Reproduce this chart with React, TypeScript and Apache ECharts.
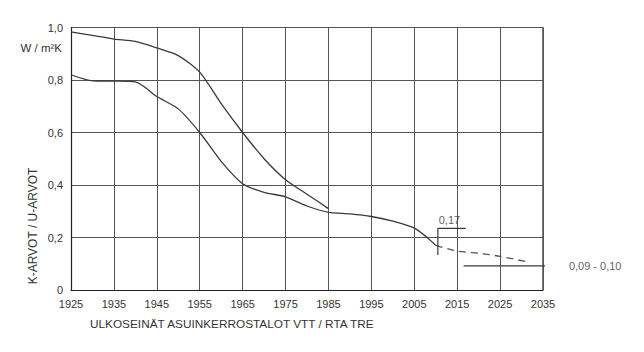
import React, { useEffect, useRef } from "react";
import * as echarts from "echarts";

const upperYears = [1925, 1930, 1935, 1940, 1945, 1950, 1955, 1960, 1965, 1970, 1975, 1980, 1985];
const upperValues = [0.983, 0.97, 0.956, 0.947, 0.922, 0.893, 0.83, 0.71, 0.6, 0.5, 0.42, 0.365, 0.31];

const lowerYears = [1925, 1930, 1935, 1940, 1942, 1945, 1950, 1955, 1960, 1965, 1970, 1975, 1980, 1985, 1990, 1995, 2000, 2005, 2008, 2010];
const lowerValues = [0.82, 0.797, 0.796, 0.793, 0.775, 0.737, 0.69, 0.6, 0.49, 0.405, 0.372, 0.355, 0.32, 0.296, 0.29, 0.28, 0.262, 0.236, 0.2, 0.17];

const futureYears = [2010, 2015, 2020, 2025, 2032];
const futureValues = [0.17, 0.148, 0.14, 0.128, 0.105];

const bracketV = [[2010.5, 0.235], [2010.5, 0.133]];
const bracketH = [[2010.5, 0.235], [2017, 0.235]];
const targetLine = [[2016.5, 0.092], [2039.4, 0.092]];

const label017 = { pos: [2013.2, 0.235], text: "0,17" };
const labelTarget = { pos: [2039.4, 0.092], text: "0,09 - 0,10" };

const yTicks = ["0", "0,2", "0,4", "0,6", "0,8", "1,0"];
const yAxisTitle = "K-ARVOT / U-ARVOT";
const unitText = "W / m²K";
const xAxisTitle = "ULKOSEINÄT ASUINKERROSTALOT VTT / RTA TRE";

const FONT = "Liberation Sans, Arial, sans-serif";
const TXT = "#333";
const LINE = "#3a3a3a";

export default function App() {
  const ref = useRef<HTMLDivElement>(null);
  useEffect(() => {
    if (!ref.current) return;
    const chart = echarts.init(ref.current, undefined, { renderer: "svg" });
    const zip = (xs: number[], ys: number[]) => xs.map((x, i) => [x, ys[i]]);
    const annotLine = (data: number[][], clip = true) => ({
      type: "line",
      data,
      symbol: "none",
      clip,
      lineStyle: { color: LINE, width: 1.2 },
      silent: true,
    });
    chart.setOption({
      animation: false,
      backgroundColor: "#fff",
      grid: { left: 71, top: 27.5, width: 472, height: 262.5, show: false },
      xAxis: {
        type: "value",
        min: 1925,
        max: 2035,
        interval: 10,
        axisLine: { show: true, lineStyle: { color: "#222", width: 1.2 } },
        axisTick: { show: false },
        splitLine: { show: true, lineStyle: { color: "#555", width: 1 } },
        axisLabel: {
          color: TXT,
          fontSize: 11,
          fontFamily: FONT,
          margin: 8,
          formatter: (v: number) => String(v),
        },
      },
      yAxis: {
        type: "value",
        min: 0,
        max: 1,
        interval: 0.2,
        axisLine: { show: true, lineStyle: { color: "#222", width: 1.2 } },
        axisTick: { show: false },
        splitLine: { show: true, lineStyle: { color: "#555", width: 1 } },
        axisLabel: {
          color: TXT,
          fontSize: 11,
          fontFamily: FONT,
          margin: 8,
          formatter: (v: number) => yTicks[Math.round(v / 0.2)],
        },
      },
      graphic: [
        {
          type: "line",
          shape: { x1: 71, y1: 27.5, x2: 543, y2: 27.5 },
          style: { stroke: "#222", lineWidth: 1.2 },
        },
        {
          type: "line",
          shape: { x1: 543, y1: 27.5, x2: 543, y2: 290 },
          style: { stroke: "#222", lineWidth: 1.2 },
        },
        {
          type: "text",
          x: 62,
          y: 48,
          style: { text: unitText, fill: TXT, font: `11.5px ${FONT}`, align: "right", verticalAlign: "middle" },
        },
        {
          type: "text",
          x: 33,
          y: 226,
          rotation: Math.PI / 2,
          style: { text: yAxisTitle, fill: TXT, font: `12px ${FONT}`, align: "center", verticalAlign: "middle" },
        },
        {
          type: "text",
          x: 90,
          y: 324,
          style: { text: xAxisTitle, fill: TXT, font: `11.8px ${FONT}`, align: "left", verticalAlign: "middle" },
        },
      ],
      series: [
        {
          type: "line",
          data: zip(upperYears, upperValues),
          symbol: "none",
          smooth: 0.25,
          lineStyle: { color: LINE, width: 1.3 },
        },
        {
          type: "line",
          data: zip(lowerYears, lowerValues),
          symbol: "none",
          smooth: 0.25,
          lineStyle: { color: LINE, width: 1.3 },
        },
        {
          type: "line",
          data: zip(futureYears, futureValues),
          symbol: "none",
          smooth: 0.25,
          lineStyle: { color: "#555", width: 1.3, type: [7, 5] },
        },
        annotLine(bracketV),
        annotLine(bracketH),
        annotLine(targetLine, false),
        {
          type: "scatter",
          symbolSize: 0,
          silent: true,
          clip: false,
          data: [
            {
              value: label017.pos,
              label: {
                show: true,
                position: "top",
                distance: 3,
                formatter: label017.text,
                color: TXT,
                fontSize: 11,
                fontFamily: FONT,
              },
            },
            {
              value: labelTarget.pos,
              label: {
                show: true,
                position: "right",
                distance: 7,
                formatter: labelTarget.text,
                color: TXT,
                fontSize: 11,
                fontFamily: FONT,
              },
            },
          ],
        },
      ],
    });
    return () => chart.dispose();
  }, []);
  return (
    <div
      ref={ref}
      style={{ position: "fixed", left: 0, top: 0, width: 644, height: 352, background: "#fff" }}
    />
  );
}
